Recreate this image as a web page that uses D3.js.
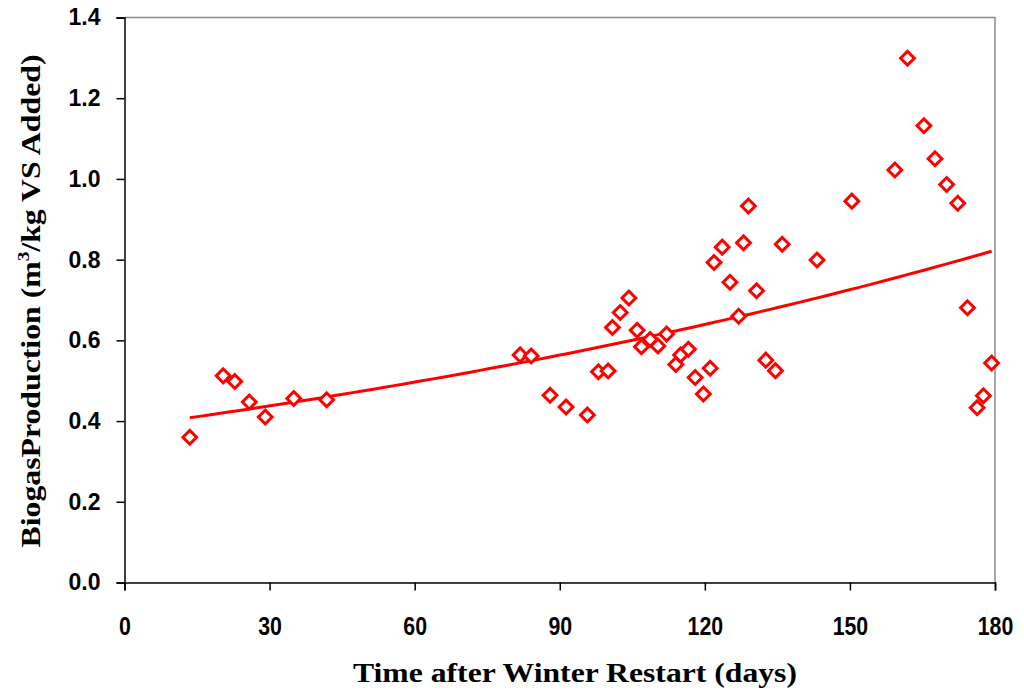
<!DOCTYPE html>
<html>
<head>
<meta charset="utf-8">
<script src="https://cdn.jsdelivr.net/npm/d3@7"></script>
<style>
  body { margin: 0; background: #fff; }
  svg { display: block; }
</style>
</head>
<body>
<svg id="chart" width="1024" height="696"></svg>
<script>
// days after restart
var days = [13.5, 20.4, 22.8, 25.8, 29.1, 35.0, 41.8,
  81.8, 84.1, 88.0, 91.3, 95.7, 98.0, 100.0, 100.9, 102.5, 104.3,
  106.0, 106.9, 108.7, 110.3, 112.1, 114.0, 115.0, 116.6, 118.0,
  119.7, 121.1, 121.9, 123.6, 125.2, 127.0, 128.0, 129.0, 130.7,
  132.6, 134.6, 136.0, 143.2, 150.4, 159.3, 161.9, 165.3, 167.6,
  170.0, 172.3, 174.3, 176.3, 177.6, 179.3];
// biogas production, m3/kg VS added
var biogas = [0.360, 0.512, 0.498, 0.447, 0.410, 0.456, 0.453,
  0.564, 0.561, 0.464, 0.435, 0.415, 0.522, 0.524, 0.632, 0.669, 0.705,
  0.625, 0.584, 0.602, 0.586, 0.616, 0.540, 0.564, 0.578, 0.508,
  0.467, 0.531, 0.793, 0.831, 0.744, 0.660, 0.842, 0.933, 0.723,
  0.551, 0.525, 0.838, 0.799, 0.945, 1.022, 1.299, 1.132, 1.050,
  0.986, 0.940, 0.681, 0.433, 0.463, 0.544];
var xTicks = [0, 30, 60, 90, 120, 150, 180];
var yTicks = [0, 0.2, 0.4, 0.6, 0.8, 1.0, 1.2, 1.4];

var svg = d3.select("#chart");
var m = {left: 124.5, right: 995, top: 17.5, bottom: 582.5};

var x = d3.scaleLinear().domain([0, 180]).range([m.left, m.right]);
var y = d3.scaleLinear().domain([0, 1.4]).range([m.bottom, m.top]);

var pts = days.map(function(d, i) { return {d: d, v: biogas[i]}; });

// plot border (grey top and right)
svg.append("path")
  .attr("d", "M" + m.left + "," + m.top + "H" + m.right + "V" + m.bottom)
  .attr("fill", "none")
  .attr("stroke", "#8c8c8c")
  .attr("stroke-width", 1.5);

// y axis
var yAxis = svg.append("g")
  .attr("transform", "translate(" + m.left + ",0)")
  .call(d3.axisLeft(y).tickValues(yTicks).tickSize(8).tickPadding(16)
    .tickFormat(d3.format(".1f")));
yAxis.select(".domain").attr("stroke", "#000").attr("stroke-width", 1.5);
yAxis.selectAll(".tick line").attr("stroke", "#000").attr("stroke-width", 1.5);
yAxis.selectAll("text")
  .attr("fill", "#000")
  .style("font-family", "'Liberation Sans', Arial, sans-serif")
  .style("font-weight", "bold")
  .style("font-size", "23px");

// x axis
var xAxis = svg.append("g")
  .attr("transform", "translate(0," + m.bottom + ")")
  .call(d3.axisBottom(x).tickValues(xTicks).tickSize(8).tickPadding(26));
xAxis.select(".domain").attr("stroke", "#000").attr("stroke-width", 1.5);
xAxis.selectAll(".tick line").attr("stroke", "#000").attr("stroke-width", 1.5);
xAxis.selectAll("text")
  .attr("fill", "#000")
  .attr("transform", "scale(0.82,1)")
  .style("font-family", "'Liberation Sans', Arial, sans-serif")
  .style("font-weight", "bold")
  .style("font-size", "26px");

// exponential trend line, fitted on ln(v) like Excel's expon. trendline
var mx = d3.mean(days);
var my = d3.mean(pts, function(p) { return Math.log(p.v); });
var sxy = d3.sum(pts, function(p) { return (p.d - mx) * (Math.log(p.v) - my); });
var sxx = d3.sum(pts, function(p) { return (p.d - mx) * (p.d - mx); });
var b = sxy / sxx, a = Math.exp(my - b * mx);
var ext = d3.extent(days);
var trendX = d3.range(ext[0], ext[1], 2).concat([ext[1]]);
svg.append("path")
  .datum(trendX)
  .attr("d", d3.line()
    .x(function(d) { return x(d); })
    .y(function(d) { return y(a * Math.exp(b * d)); }))
  .attr("fill", "none")
  .attr("stroke", "#ff0000")
  .attr("stroke-width", 3);

// diamond markers
svg.append("g").selectAll("path")
  .data(pts)
  .enter()
  .append("path")
  .attr("d", d3.symbol().type(d3.symbolSquare).size(95))
  .attr("transform", function(p) {
    return "translate(" + x(p.d) + "," + y(p.v) + ") rotate(45)";
  })
  .attr("fill", "#fff")
  .attr("stroke", "#ff0000")
  .attr("stroke-width", 3);

// axis titles
svg.append("text")
  .attr("x", 575).attr("y", 682)
  .attr("text-anchor", "middle")
  .attr("textLength", 444)
  .attr("lengthAdjust", "spacingAndGlyphs")
  .style("font-family", "'Liberation Serif', 'Times New Roman', serif")
  .style("font-weight", "bold")
  .style("font-size", "28px")
  .text("Time after Winter Restart (days)");

var yt = svg.append("text")
  .attr("transform", "translate(40,301) rotate(-90)")
  .attr("text-anchor", "middle")
  .attr("textLength", 493)
  .attr("lengthAdjust", "spacingAndGlyphs")
  .style("font-family", "'Liberation Serif', 'Times New Roman', serif")
  .style("font-weight", "bold")
  .style("font-size", "28px");
yt.append("tspan").text("BiogasProduction (m");
yt.append("tspan").attr("dy", -11).style("font-size", "17px").text("3");
yt.append("tspan").attr("dy", 11).text("/kg VS Added)");
</script>
</body>
</html>
